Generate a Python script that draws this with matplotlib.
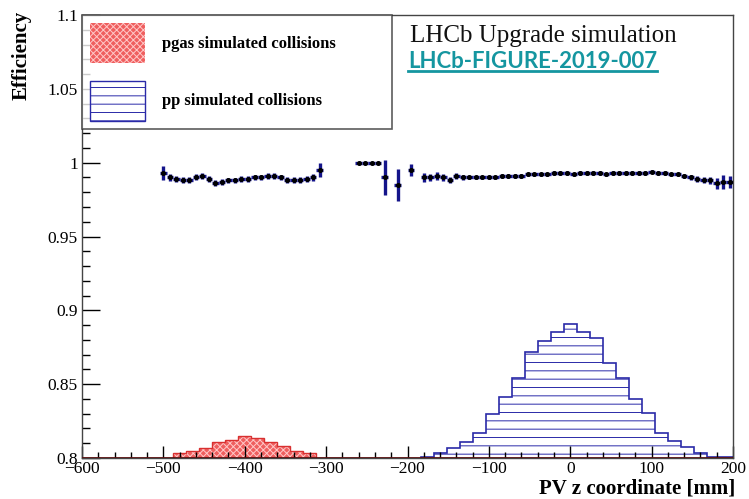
import numpy as np
import matplotlib
matplotlib.use("Agg")
import matplotlib.pyplot as plt
from matplotlib.patches import Patch
from matplotlib.lines import Line2D
from matplotlib.ticker import MultipleLocator, FuncFormatter

plt.rcParams['font.family'] = ['Liberation Serif', 'DejaVu Serif']
plt.rcParams['hatch.linewidth'] = 0.7

# efficiency points (8 mm bins), three separate groups
eff_left_x = np.arange(-500, -307, 8)
eff_left = [0.993, 0.990, 0.989, 0.988, 0.988, 0.990, 0.991, 0.989, 0.986, 0.987,
            0.988, 0.988, 0.989, 0.989, 0.990, 0.990, 0.991, 0.991, 0.990, 0.988,
            0.988, 0.988, 0.989, 0.990, 0.995]
eff_left_err = [0.005, 0.0025, 0.0022, 0.002, 0.002, 0.002, 0.002, 0.002, 0.002, 0.002,
                0.0018, 0.0018, 0.0018, 0.0018, 0.0018, 0.0018, 0.0018, 0.0018, 0.0018, 0.002,
                0.002, 0.002, 0.002, 0.0025, 0.0045]

eff_mid_x = [-260, -252, -244, -236, -228, -212, -196]
eff_mid = [1.000, 1.000, 1.000, 1.000, 0.990, 0.985, 0.995]
eff_mid_err = [0.0, 0.0, 0.0, 0.0, 0.012, 0.011, 0.004]

eff_right_x = np.arange(-180, 197, 8)
eff_right = [0.990, 0.990, 0.991, 0.990, 0.988, 0.991, 0.990, 0.990, 0.990, 0.990,
             0.990, 0.990, 0.991, 0.991, 0.991, 0.991, 0.992, 0.992, 0.992, 0.992,
             0.993, 0.993, 0.993, 0.992, 0.993, 0.993, 0.993, 0.993, 0.992, 0.993,
             0.993, 0.993, 0.993, 0.993, 0.993, 0.994, 0.993, 0.993, 0.992, 0.992,
             0.991, 0.990, 0.989, 0.988, 0.988, 0.986, 0.987, 0.987]
eff_right_err = [0.003, 0.0025, 0.0025, 0.0022, 0.002, 0.0018, 0.0015, 0.0012, 0.0012, 0.0012,
                 0.0012, 0.0012, 0.0012, 0.0012, 0.0012, 0.0012, 0.0012, 0.0012, 0.0012, 0.0012,
                 0.0012, 0.0012, 0.0012, 0.0012, 0.0012, 0.0012, 0.0012, 0.0012, 0.0012, 0.0012,
                 0.0012, 0.0012, 0.0012, 0.0012, 0.0012, 0.0012, 0.0012, 0.0012, 0.0012, 0.0012,
                 0.0012, 0.0015, 0.0018, 0.002, 0.0025, 0.0035, 0.0045, 0.004]

# PV z distributions (16 mm bins), shown on the efficiency scale
pgas_edges = np.arange(-488, -311, 16)
pgas_vals = [0.8035, 0.805, 0.807, 0.8105, 0.8125, 0.815, 0.8135, 0.8105, 0.808, 0.805, 0.8035]

pp_edges = np.arange(-184, 201, 16)
pp_vals = [0.8006, 0.8034, 0.807, 0.811, 0.817, 0.830, 0.841, 0.854, 0.872, 0.879,
           0.8855, 0.891, 0.8855, 0.881, 0.8645, 0.854, 0.840, 0.8305, 0.817, 0.8115,
           0.8075, 0.8034, 0.801, 0.8004]

red_face = '#ef5f5f'
red_hatch = '#ffc8c8'
blue = '#2a2aa8'

fig = plt.figure(figsize=(7.49, 4.99), dpi=100)
ax = fig.add_axes([82 / 749, 41 / 499, 651 / 749, 443 / 499])

# histograms
ax.stairs(pgas_vals, pgas_edges, baseline=0.8, fill=True, facecolor=red_face,
          edgecolor=red_hatch, hatch='xxxxx', linewidth=0)
ax.stairs(pgas_vals, pgas_edges, baseline=0.8, color='#d83030', linewidth=1)
ax.stairs(pp_vals, pp_edges, baseline=0.8, fill=True, facecolor='none',
          edgecolor=blue, hatch='--', linewidth=1.2)
ax.axhline(0.8, color='#5a1010', linewidth=2, zorder=5)

# efficiency points
for xs, ys, es in [(eff_left_x, eff_left, eff_left_err),
                   (eff_mid_x, eff_mid, eff_mid_err),
                   (eff_right_x, eff_right, eff_right_err)]:
    ax.errorbar(xs, ys, yerr=es, xerr=4, fmt='o', color='black', markersize=2.6,
                ecolor='#14148a', elinewidth=2.4, capsize=0, zorder=6)

ax.set_xlim(-600, 200)
ax.set_ylim(0.8, 1.1)

ax.xaxis.set_major_locator(MultipleLocator(100))
ax.xaxis.set_minor_locator(MultipleLocator(20))
ax.yaxis.set_major_locator(MultipleLocator(0.05))
ax.yaxis.set_minor_locator(MultipleLocator(0.01))
ax.xaxis.set_major_formatter(FuncFormatter(lambda v, p: f"{v:g}".replace('-', '\u2212')))
ax.yaxis.set_major_formatter(FuncFormatter(lambda v, p: f"{round(v, 3):g}"))
ax.tick_params(axis='both', which='both', direction='in', top=False, right=False,
               labelsize=12.5, width=1)
ax.tick_params(axis='x', which='major', length=9, pad=2)
ax.tick_params(axis='x', which='minor', length=4.5)
ax.tick_params(axis='y', which='major', length=13, pad=3)
ax.tick_params(axis='y', which='minor', length=6)
for s in ax.spines.values():
    s.set_color('#444444')
    s.set_linewidth(1)

# legend
handles = [Patch(facecolor=red_face, edgecolor=red_hatch, hatch='xxxxx', linewidth=0),
           Patch(facecolor='white', edgecolor=blue, hatch='--', linewidth=1)]
labels = ['pgas simulated collisions', 'pp simulated collisions']
leg = ax.legend(handles, labels, loc='upper left', bbox_to_anchor=(0, 1.0, 0.476, 0.0),
                mode='expand', borderaxespad=0, fancybox=False, frameon=True,
                handlelength=3.3, handleheight=3.3, labelspacing=1.05, handletextpad=1.0,
                borderpad=0.5, prop={'weight': 'bold', 'size': 12})
leg.get_frame().set_edgecolor('#333333')
leg.get_frame().set_linewidth(1.2)

ax.text(0.504, 0.953, 'LHCb Upgrade simulation', transform=ax.transAxes,
        fontsize=18, ha='left', va='center', color='#111111')
fig_label = ax.text(0.501, 0.896, 'LHCb-FIGURE-2019-007', transform=ax.transAxes,
                    fontsize=16, fontweight='bold', family=['Lato', 'DejaVu Sans'],
                    ha='left', va='center', color='#1596a0')

fig.text(22 / 749, 1 - 11 / 499, 'Efficiency', rotation=90, ha='center', va='top',
         fontsize=15, fontweight='bold')
fig.text(735 / 749, 1 - 489 / 499, 'PV z coordinate [mm]', ha='right', va='center',
         fontsize=15, fontweight='bold')

# underline for the figure reference
fig.canvas.draw()
bb = fig_label.get_window_extent().transformed(fig.transFigure.inverted())
fig.add_artist(Line2D([bb.x0, bb.x1], [bb.y0 + 0.002, bb.y0 + 0.002],
                      transform=fig.transFigure, color='#1596a0', linewidth=2))

fig.savefig('out.png', dpi=100)
